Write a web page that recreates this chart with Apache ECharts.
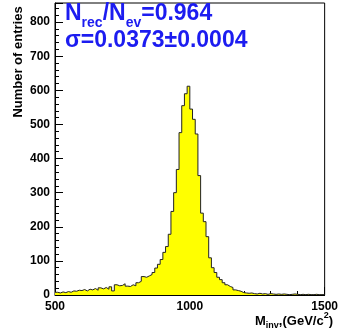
<!DOCTYPE html>
<html>
<head>
<meta charset="utf-8">
<script src="https://cdn.jsdelivr.net/npm/echarts@6/dist/echarts.min.js"></script>
<style>
  html, body { margin: 0; padding: 0; background: #fff; }
  #chart { width: 341px; height: 330px; }
</style>
</head>
<body>
<div id="chart"></div>
<script>
// histogram: 10 GeV bins from 500 to 1500
const binStart = 500
const binWidth = 10
const counts = [
  8, 6, 9, 7, 10, 8, 12, 11, 14, 13,
  16, 12, 17, 15, 19, 14, 21, 18, 22, 17,
  24, 12, 30, 27, 28, 33, 26, 25, 30, 27,
  36, 40, 54, 52, 56, 60, 66, 79, 90, 104,
  125, 142, 178, 245, 300, 368, 476, 555, 590, 612,
  545, 515, 472, 350, 240, 215, 171, 109, 80, 66,
  52, 45, 36, 30, 25, 22, 15, 13, 11, 7,
  6, 5, 6, 4, 3, 5, 3, 4, 2, 4,
  3, 2, 3, 2, 3, 2, 1, 2, 3, 2,
  1, 2, 1, 2, 1, 1, 2, 1, 1, 1,
]
const xTicks = [500, 1000, 1500]
const yTicks = [0, 100, 200, 300, 400, 500, 600, 700, 800]

const stepData = counts.map((c, i) => [binStart + i * binWidth, c])
stepData.push([binStart + counts.length * binWidth, counts[counts.length - 1]])

const font = 'Liberation Sans, Arial, sans-serif'
const blue = '#1c1cf0'

const chart = echarts.init(document.getElementById('chart'))
chart.setOption({
  animation: false,
  backgroundColor: '#fff',
  textStyle: { fontFamily: font },
  grid: {
    left: 55, right: 12, top: 3, bottom: 35,
    show: true, borderColor: '#000', borderWidth: 1,
  },
  xAxis: {
    type: 'value',
    min: xTicks[0], max: xTicks[xTicks.length - 1], interval: 500,
    axisLine: { lineStyle: { color: '#000', width: 1 } },
    axisTick: { inside: true, length: 8, lineStyle: { color: '#000' } },
    minorTick: { show: true, splitNumber: 5, length: 4, lineStyle: { color: '#000' } },
    axisLabel: {
      color: '#000', fontSize: 12, fontWeight: 'bold', margin: 6, fontFamily: font,
      formatter: v => String(v),
    },
    splitLine: { show: false },
  },
  yAxis: {
    type: 'value',
    min: yTicks[0], max: 856, interval: 100,
    axisLine: { show: true, lineStyle: { color: '#000', width: 1 } },
    axisTick: { show: true, inside: true, length: 8, lineStyle: { color: '#000' } },
    minorTick: { show: true, splitNumber: 5, length: 4, lineStyle: { color: '#000' } },
    axisLabel: {
      color: '#000', fontSize: 12, fontWeight: 'bold', margin: 5, fontFamily: font,
      showMaxLabel: false, formatter: v => String(v),
    },
    splitLine: { show: false },
  },
  series: [{
    type: 'line',
    step: 'end',
    data: stepData,
    symbol: 'none',
    lineStyle: { color: '#222', width: 1 },
    areaStyle: { color: '#ffff00', opacity: 1, origin: 'start' },
  }],
  graphic: [
    {
      type: 'text', left: 65, top: 2,
      style: {
        text: '{a|N}{s|rec}{a|/N}{s|ev}{a|=0.964}',
        rich: {
          a: { fontSize: 23, fontWeight: 'bold', fill: blue, fontFamily: font, lineHeight: 24, verticalAlign: 'top' },
          s: { fontSize: 14, fontWeight: 'bold', fill: blue, fontFamily: font, lineHeight: 14, padding: [14, 0, 0, 0], verticalAlign: 'top' },
        },
      },
    },
    {
      type: 'text', left: 65, top: 29,
      style: {
        text: 'σ=0.0373±0.0004',
        fill: blue, fontSize: 23, fontWeight: 'bold', fontFamily: font,
      },
    },
    {
      type: 'text', x: 18, y: 62, rotation: Math.PI / 2,
      style: {
        text: 'Number of entries',
        fill: '#000', fontSize: 13, fontWeight: 'bold', fontFamily: font,
        align: 'center', verticalAlign: 'middle',
      },
    },
    {
      type: 'text', right: 8, top: 311,
      style: {
        text: '{a|M}{s|inv}{a|,(GeV/c}{p|2}{a|)}',
        rich: {
          a: { fontSize: 13, fontWeight: 'bold', fill: '#000', fontFamily: font, lineHeight: 15, padding: [4, 0, 0, 0], verticalAlign: 'top' },
          s: { fontSize: 9, fontWeight: 'bold', fill: '#000', fontFamily: font, lineHeight: 10, padding: [10, 0, 0, 0], verticalAlign: 'top' },
          p: { fontSize: 9, fontWeight: 'bold', fill: '#000', fontFamily: font, lineHeight: 10, verticalAlign: 'top' },
        },
      },
    },
  ],
})
</script>
</body>
</html>
